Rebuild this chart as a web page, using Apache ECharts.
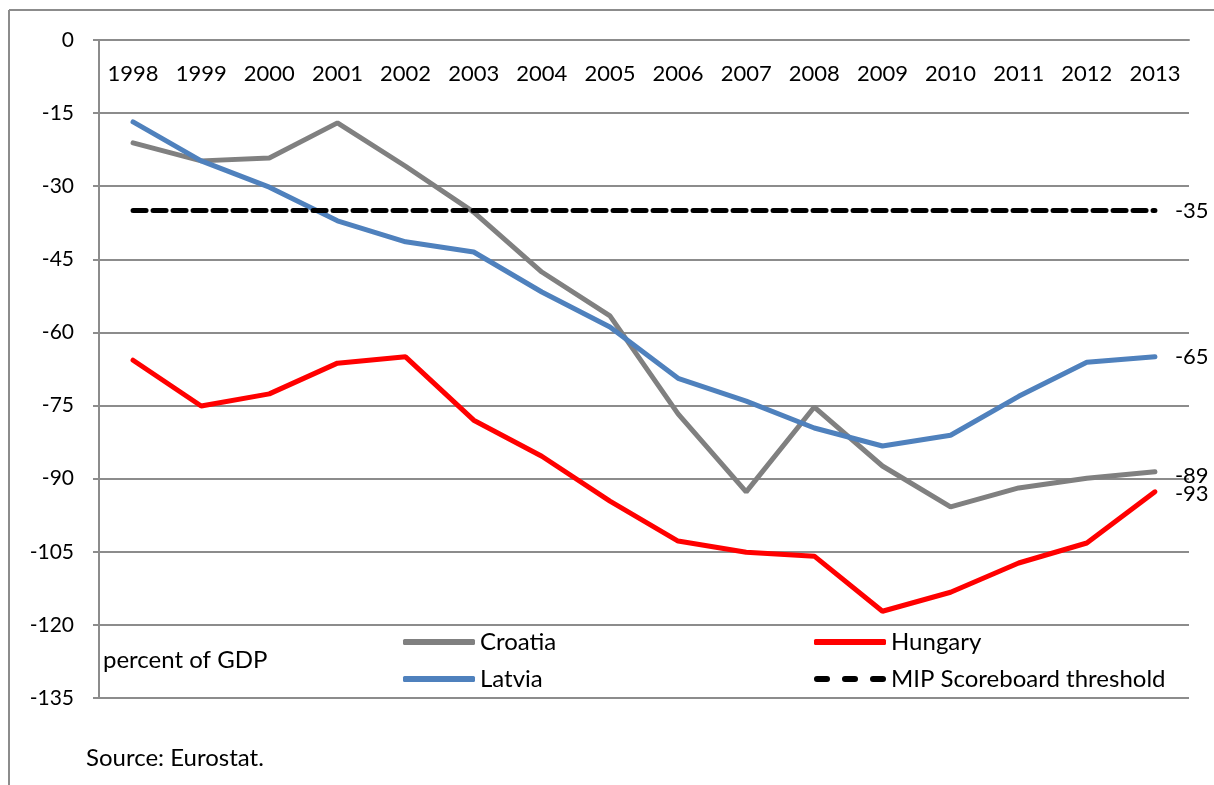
<!DOCTYPE html>
<html>
<head>
<meta charset="utf-8">
<script src="https://cdn.jsdelivr.net/npm/echarts@6/dist/echarts.min.js"></script>
<style>
  html, body { margin: 0; padding: 0; background: #fff; }
  #chart { width: 1214px; height: 785px; }
</style>
</head>
<body>
<div id="chart"></div>
<script>
// 数据
const years = ['1998', '1999', '2000', '2001', '2002', '2003', '2004', '2005',
  '2006', '2007', '2008', '2009', '2010', '2011', '2012', '2013'];
const croatia = [-21.1, -24.8, -24.2, -17.0, -25.9, -35.3, -47.6, -56.6,
  -76.7, -92.7, -75.3, -87.4, -95.8, -91.9, -89.9, -88.6];
const latvia = [-16.8, -24.8, -30.2, -37.1, -41.4, -43.5, -51.7, -58.9,
  -69.4, -74.1, -79.6, -83.3, -81.1, -73.1, -66.1, -65.0];
const hungary = [-65.7, -75.1, -72.6, -66.3, -65.0, -78.0, -85.4, -94.6,
  -102.8, -105.1, -105.9, -117.2, -113.3, -107.3, -103.2, -92.7];
const threshold = years.map(() => -35);

const font = 'Lato, "Noto Sans", sans-serif';
const gridColor = '#8c8c8c';
// 图例里的虚线图标
const dashIcon = 'path://M3,0h10a3,3 0 0 1 0,6h-10a3,3 0 0 1 0,-6z M31,0h10a3,3 0 0 1 0,6h-10a3,3 0 0 1 0,-6z M59,0h10a3,3 0 0 1 0,6h-10a3,3 0 0 1 0,-6z';

const endLabel = (dy) => ({
  show: true,
  distance: 20,
  offset: [0, dy],
  color: '#000',
  fontSize: 22,
  fontFamily: font,
  formatter: (p) => String(Math.round(p.value))
});

const legendBase = {
  orient: 'vertical',
  top: 625,
  itemWidth: 72,
  itemHeight: 6,
  itemGap: 13,
  textStyle: { fontSize: 24, color: '#000', fontFamily: font }
};

const mycharts = echarts.init(document.getElementById('chart'));
const options = {
  animation: false,
  textStyle: { fontFamily: font },
  grid: { left: 99, right: 25, top: 40, bottom: 87 },
  legend: [
    Object.assign({}, legendBase, {
      left: 398,
      data: [
        { name: 'Croatia', icon: 'roundRect' },
        { name: 'Latvia', icon: 'roundRect' }
      ]
    }),
    Object.assign({}, legendBase, {
      left: 809,
      data: [
        { name: 'Hungary', icon: 'roundRect' },
        { name: 'MIP Scoreboard threshold', icon: dashIcon }
      ]
    })
  ],
  xAxis: {
    type: 'category',
    position: 'top',
    data: years,
    axisLine: { lineStyle: { color: gridColor, width: 2 } },
    axisTick: { inside: true, length: 8, interval: 0, lineStyle: { color: gridColor, width: 2 } },
    axisLabel: { inside: true, interval: 0, margin: 23, color: '#000', fontSize: 22, fontFamily: font }
  },
  yAxis: {
    type: 'value',
    min: -135,
    max: 0,
    interval: 15,
    axisLine: { show: true, lineStyle: { color: gridColor, width: 2 } },
    axisTick: { show: true, length: 6, lineStyle: { color: gridColor, width: 2 } },
    axisLabel: { margin: 25, color: '#000', fontSize: 21, fontFamily: font },
    splitLine: { lineStyle: { color: gridColor, width: 2 } }
  },
  series: [
    {
      name: 'Croatia',
      type: 'line',
      data: croatia,
      symbol: 'none',
      lineStyle: { color: '#808080', width: 5, cap: 'round' },
      itemStyle: { color: '#808080' },
      endLabel: endLabel(4)
    },
    {
      name: 'Hungary',
      type: 'line',
      data: hungary,
      symbol: 'none',
      lineStyle: { color: '#ff0000', width: 5, cap: 'round' },
      itemStyle: { color: '#ff0000' },
      endLabel: endLabel(2)
    },
    {
      name: 'Latvia',
      type: 'line',
      data: latvia,
      symbol: 'none',
      lineStyle: { color: '#4f81bd', width: 5, cap: 'round' },
      itemStyle: { color: '#4f81bd' },
      endLabel: endLabel(0)
    },
    {
      name: 'MIP Scoreboard threshold',
      type: 'line',
      data: threshold,
      symbol: 'none',
      lineStyle: { color: '#000', width: 5, type: [13, 7], cap: 'round' },
      itemStyle: { color: '#000' },
      endLabel: endLabel(0)
    }
  ],
  graphic: [
    { type: 'line', shape: { x1: 9, y1: 10, x2: 9, y2: 785 }, style: { stroke: gridColor, lineWidth: 2 } },
    { type: 'line', shape: { x1: 9, y1: 10, x2: 1214, y2: 10 }, style: { stroke: gridColor, lineWidth: 2 } },
    { type: 'text', left: 103, top: 648, style: { text: 'percent of GDP', fill: '#000', font: '24px ' + font } },
    { type: 'text', left: 86, top: 746, style: { text: 'Source: Eurostat.', fill: '#000', font: '24px ' + font } }
  ]
};
mycharts.setOption(options);
</script>
</body>
</html>
